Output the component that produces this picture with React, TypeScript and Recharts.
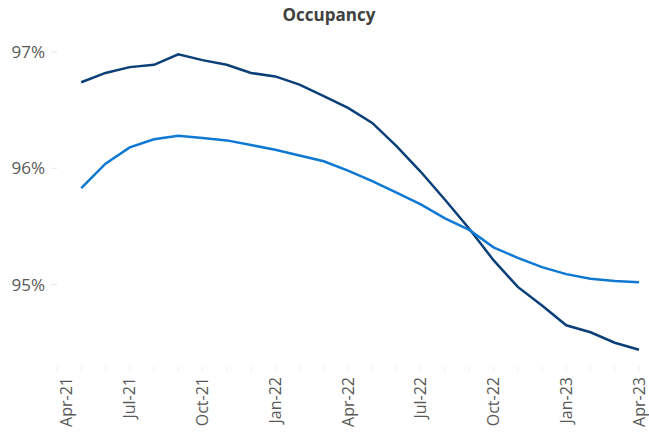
import React from 'react';
import { LineChart, Line, XAxis, YAxis } from 'recharts';

const months = [
  'Apr-21', 'May-21', 'Jun-21', 'Jul-21', 'Aug-21', 'Sep-21', 'Oct-21', 'Nov-21', 'Dec-21',
  'Jan-22', 'Feb-22', 'Mar-22', 'Apr-22', 'May-22', 'Jun-22', 'Jul-22', 'Aug-22', 'Sep-22',
  'Oct-22', 'Nov-22', 'Dec-22', 'Jan-23', 'Feb-23', 'Mar-23', 'Apr-23',
];

// no value for the first month, the lines start one step in
const darkSeries = [
  null, 96.74, 96.82, 96.87, 96.89, 96.98, 96.93, 96.89, 96.82, 96.79, 96.72, 96.62,
  96.52, 96.39, 96.19, 95.97, 95.73, 95.48, 95.21, 94.98, 94.82, 94.65, 94.59, 94.5, 94.44,
];

const lightSeries = [
  null, 95.83, 96.04, 96.18, 96.25, 96.28, 96.26, 96.24, 96.2, 96.16, 96.11, 96.06,
  95.98, 95.89, 95.79, 95.69, 95.57, 95.47, 95.32, 95.23, 95.15, 95.09, 95.05, 95.03, 95.02,
];

const yTicks = [95, 96, 97];
const labelMonths = ['Apr-21', 'Jul-21', 'Oct-21', 'Jan-22', 'Apr-22', 'Jul-22', 'Oct-22', 'Jan-23', 'Apr-23'];

const data = months.map((m, i) => ({ month: m, dark: darkSeries[i], light: lightSeries[i] }));

const font = '"Open Sans", sans-serif';

const MonthTick = (props: any) => {
  const { x, y, payload, index } = props;
  if (!labelMonths.includes(payload.value)) return null;
  // first label sits a little inside the plot, as in the original
  const shift = index === 0 ? 9 : 0;
  return (
    <g transform={`translate(${x + shift},${y})`}>
      <text
        transform="rotate(-90)"
        x={-4}
        dy="0.35em"
        textAnchor="end"
        fill="#595959"
        fontSize={16}
        fontFamily={font}
      >
        {payload.value}
      </text>
    </g>
  );
};

const App: React.FC = () => {
  return (
    <div style={{ position: 'relative', width: 649, height: 435 }}>
      <style>{'body { margin: 0; }'}</style>
      <div
        style={{
          position: 'absolute',
          top: 3,
          left: 0,
          width: 658,
          textAlign: 'center',
          fontFamily: font,
          fontWeight: 700,
          fontSize: 17,
          color: '#404040',
        }}
      >
        Occupancy
      </div>
      <LineChart
        width={649}
        height={435}
        data={data}
        margin={{ top: 52, right: 10, left: 0, bottom: 0 }}
      >
        <XAxis
          dataKey="month"
          interval={0}
          height={69}
          axisLine={false}
          tickLine={{ stroke: '#f0f0f0' }}
          tickSize={5}
          tick={<MonthTick />}
        />
        <YAxis
          domain={[94.3, 97]}
          ticks={yTicks}
          width={57}
          axisLine={false}
          tickLine={{ stroke: '#e6e6e6' }}
          tickSize={6}
          tickMargin={6}
          tickFormatter={(v: number) => `${v}%`}
          tick={{ fill: '#595959', fontSize: 17, fontFamily: font }}
        />
        <Line
          type="linear"
          dataKey="dark"
          stroke="#0b3f78"
          strokeWidth={2.5}
          dot={false}
          isAnimationActive={false}
        />
        <Line
          type="linear"
          dataKey="light"
          stroke="#0f78d2"
          strokeWidth={2.5}
          dot={false}
          isAnimationActive={false}
        />
      </LineChart>
    </div>
  );
};

export default App;
